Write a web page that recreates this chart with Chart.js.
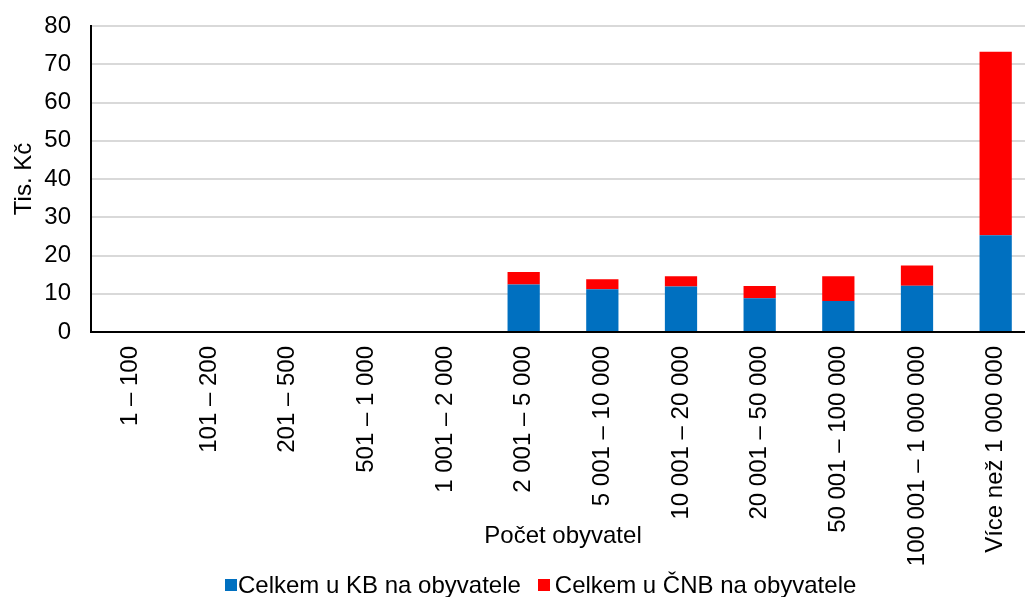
<!DOCTYPE html>
<html>
<head>
<meta charset="utf-8">
<script src="https://cdn.jsdelivr.net/npm/chart.js@4"></script>
<style>
  html, body { margin: 0; padding: 0; background: #fff; overflow: hidden; }
  #wrap { position: relative; width: 1035px; height: 597px; }
  #legend {
    position: absolute; top: 571px; left: 225px;
    display: flex; flex-direction: row; align-items: center;
    font-family: 'Liberation Sans', Arial, sans-serif;
    font-size: 24px; line-height: 28px; color: #000;
    white-space: nowrap;
  }
  #legend .box { display: inline-block; width: 12px; height: 12px; }
</style>
</head>
<body>
<div id="wrap">
  <canvas id="chart"></canvas>
  <div id="legend"></div>
</div>
<script>
const categories = [
    "1 – 100", "101 – 200", "201 – 500", "501 – 1 000", "1 001 – 2 000",
    "2 001 – 5 000", "5 001 – 10 000", "10 001 – 20 000", "20 001 – 50 000",
    "50 001 – 100 000", "100 001 – 1 000 000", "Více než 1 000 000"
];
// values in tis. Kč per inhabitant
const kbValues  = [null, null, null, null, null, 12.4, 11.2, 11.9, 8.8, 8.1, 12.1, 25.3];
const cnbValues = [null, null, null, null, null, 3.3, 2.6, 2.7, 3.2, 6.5, 5.3, 48.0];
const yTicks = [0, 10, 20, 30, 40, 50, 60, 70, 80];
const seriesNames = ["Celkem u KB na obyvatele", "Celkem u ČNB na obyvatele"];
const seriesColours = ["#0070c0", "#ff0000"];

Chart.defaults.font.family = "'Liberation Sans', Arial, sans-serif";
Chart.defaults.font.size = 24;
Chart.defaults.color = "#000";

const ctx = document.getElementById("chart");
const chart = new Chart(ctx, {
    type: 'bar',
    data: {
        labels: categories,
        datasets: [
            {
                label: seriesNames[0],
                data: kbValues,
                backgroundColor: seriesColours[0],
                barPercentage: 0.41,
                categoryPercentage: 1
            },
            {
                label: seriesNames[1],
                data: cnbValues,
                backgroundColor: seriesColours[1],
                barPercentage: 0.41,
                categoryPercentage: 1
            }
        ]
    },
    options: {
        responsive: true,
        maintainAspectRatio: false,
        animation: false,
        layout: {
            padding: { top: 0, right: 0, left: 0, bottom: 0 }
        },
        plugins: {
            legend: { display: false },
            tooltip: { enabled: false }
        },
        scales: {
            x: {
                stacked: true,
                grid: { display: false, drawTicks: false },
                border: { color: "#000", width: 2 },
                ticks: {
                    maxRotation: 90,
                    minRotation: 90,
                    autoSkip: false,
                    padding: 14
                },
                title: {
                    display: true,
                    text: "Počet obyvatel",
                    padding: { top: 0, bottom: 46 }
                },
                afterFit: function(axis) {
                    axis.height = 265;
                    axis.paddingLeft = 0;
                    axis.paddingRight = 0;
                }
            },
            y: {
                stacked: true,
                min: 0,
                max: 80,
                afterBuildTicks: function(axis) {
                    axis.ticks = yTicks.map(v => ({ value: v }));
                },
                grid: { color: "#d9d9d9", lineWidth: 2, drawTicks: false },
                border: { color: "#000", width: 2 },
                ticks: { padding: 20 },
                title: {
                    display: true,
                    text: "Tis. Kč",
                    padding: { top: 10, bottom: 0 }
                },
                afterFit: function(axis) {
                    axis.width = 91;
                    axis.paddingTop = 26;
                    axis.paddingBottom = 16;
                }
            }
        }
    }
});

// Legend
const legendContainer = document.getElementById("legend");
seriesNames.forEach(function(name, i) {
    const box = document.createElement("span");
    box.className = "box";
    box.style.background = seriesColours[i];
    box.style.marginLeft = i === 0 ? "0px" : "17px";
    box.style.marginRight = i === 0 ? "1px" : "5px";

    const text = document.createElement("span");
    text.textContent = name;

    legendContainer.appendChild(box);
    legendContainer.appendChild(text);
});
</script>
</body>
</html>
